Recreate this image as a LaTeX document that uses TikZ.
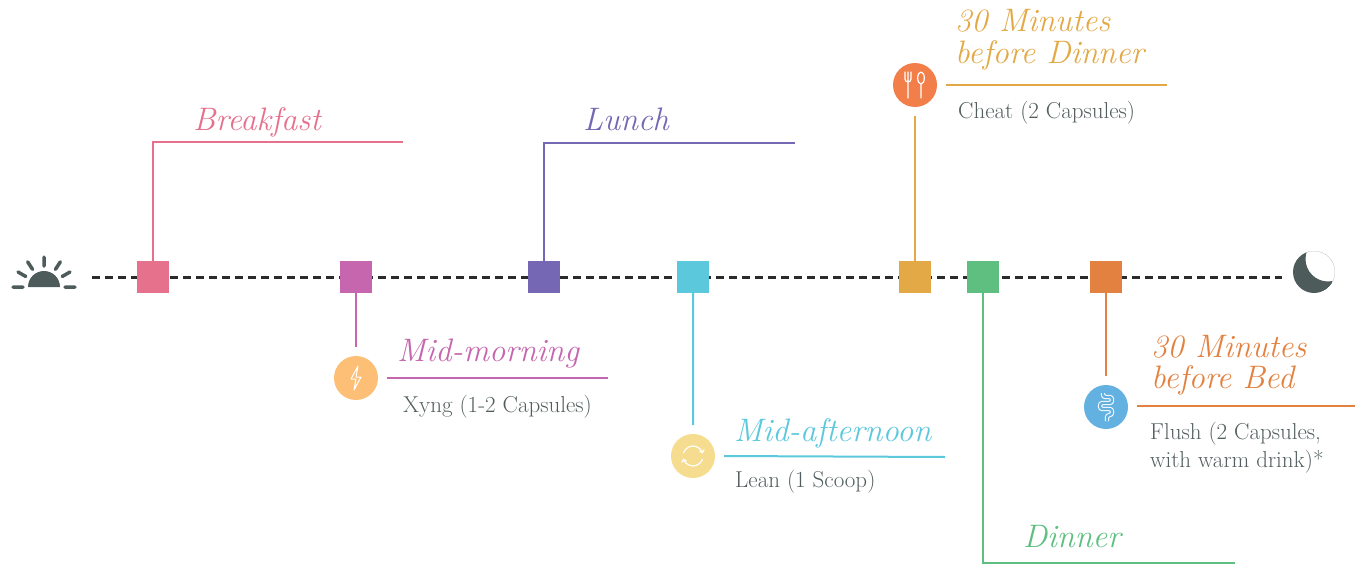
\documentclass[tikz,border=0pt]{standalone}
\usepackage{tikz}
\usetikzlibrary{arrows.meta}
\definecolor{brkc}{HTML}{E5718D}
\definecolor{mmc}{HTML}{C566AE}
\definecolor{lunc}{HTML}{7567B3}
\definecolor{mac}{HTML}{5CC8DC}
\definecolor{bdc}{HTML}{E3A946}
\definecolor{dinc}{HTML}{5EBF80}
\definecolor{bbc}{HTML}{E38240}
\definecolor{boltc}{HTML}{FDBF76}
\definecolor{loopc}{HTML}{F6DC8E}
\definecolor{forkc}{HTML}{F27F4A}
\definecolor{gutc}{HTML}{62B1E1}
\definecolor{notec}{HTML}{525E5E}
\definecolor{skyc}{HTML}{4E5B5B}
\definecolor{dotc}{HTML}{2B2B2B}
\tikzset{%
  slot/.style={shape=rectangle,inner sep=0,minimum size=32},
  icon/.style={shape=circle,inner sep=0,minimum size=44,outer sep=9},
  stem/.style={line width=2},
  timeline/.style={draw=dotc,line width=3,dash pattern=on 8 off 5},
  head/.style={anchor=base west,inner sep=0,font=\fontsize{32.5}{33}\selectfont\itshape},
  note/.style={anchor=base west,inner sep=0,text=notec,font=\fontsize{23}{27}\selectfont},
  glyph/.style={draw=white,line width=1.2,line cap=round,line join=round}
}
\begin{document}
\begin{tikzpicture}[x=1pt,y=-1pt]
    \useasboundingbox (0,0) rectangle (1355,565);
    % sun and moon
    \fill[skyc] (28,287) arc[start angle=180,end angle=360,radius=16] -- cycle;
    \draw[skyc,line width=3.5,line cap=round]
      (13,287) -- (23,287) (65,287) -- (75,287)
      \foreach \a in {-150,-123,-90,-57,-30} {(\a:21) ++(44,287) -- ++(\a:9)};
    \begin{scope}
      \clip (1314,272) circle (21);
      \fill[skyc,even odd rule] (1314,272) circle (21) (1328,259) circle (22.5);
    \end{scope}
    \path (92,277) coordinate (t0) (1282,277) coordinate (t1);
    \draw[timeline] (t0) -- (t1);
    \path
      (153,277) node[slot,fill=brkc] (brk) {}
      (356,277) node[slot,fill=mmc] (mm) {}
      (544,277) node[slot,fill=lunc] (lun) {}
      (693,277) node[slot,fill=mac] (ma) {}
      (915,277) node[slot,fill=bdc] (bd) {}
      (983,277) node[slot,fill=dinc] (din) {}
      (1106,277) node[slot,fill=bbc] (bb) {};
    \path
      (356,378) node[icon,fill=boltc] (mmi) {}
      (693,456) node[icon,fill=loopc] (mai) {}
      (915,85) node[icon,fill=forkc] (bdi) {}
      (1106,407) node[icon,fill=gutc] (bbi) {};
    \path
      (403,142) coordinate (brkend) (795,143) coordinate (lunend)
      (608,378) coordinate (mmend) (945,457) coordinate (maend)
      (1167,85) coordinate (bdend) (1235,563) coordinate (dinend)
      (1355,406) coordinate (bbend);
    \draw[stem,brkc] (brk.north) |- (brkend);
    \draw[stem,lunc] (lun.north) |- (lunend);
    \draw[stem,dinc] (din.south) |- (dinend);
    \draw[stem,mmc] (mm.south) -- (mmi.north) (mmi.east) -- (mmend);
    \draw[stem,mac] (ma.south) -- (mai.north) (mai.east) -- (maend);
    \draw[stem,bdc] (bd.north) -- (bdi.south) (bdi.east) -- (bdend);
    \draw[stem,bbc] (bb.south) -- (bbi.north) (bbi.east |- bbend) -- (bbend);
    % icons
    \begin{scope}[shift={(mmi)}]
      \draw[glyph,line width=1] (2,-12) -- (-5,1) -- (0,1) -- (-2,12) -- (5,-1) -- (0,-1) -- cycle;
    \end{scope}
    \begin{scope}[shift={(mai)}]
      \draw[glyph,-{Straight Barb[length=2.5,width=5]}] (20:10) arc[start angle=20,end angle=165,radius=10];
      \draw[glyph,-{Straight Barb[length=2.5,width=5]}] (200:10) arc[start angle=200,end angle=345,radius=10];
    \end{scope}
    \begin{scope}[shift={(bdi)}]
      \draw[glyph] (-10,-13) -- (-10,-6) arc[start angle=180,end angle=0,radius=3] -- (-4,-13)
        (-7,-13) -- (-7,13);
      \draw[glyph] (6,-7) ellipse[x radius=3.3,y radius=6] (6,-1) -- (6,13);
    \end{scope}
    \begin{scope}[shift={(bbi)}]
      \draw[white,line width=1,double=gutc,double distance=2.4,rounded corners=2.5]
        (-3,-14) -- (-3,-10) -- (6,-10) -- (6,-4) -- (-6,-4) -- (-6,2) -- (6,2) -- (6,8) -- (1,8) -- (1,14);
    \end{scope}
    % labels
    \path
      (193,130) node[head,text=brkc] (brkt) {Breakfast}
      (583,130) node[head,text=lunc] (lunt) {Lunch}
      (397,361) node[head,text=mmc] (mmt) {Mid-morning}
      (403,412) node[note] (mmn) {Xyng (1-2 Capsules)}
      (734,441) node[head,text=mac] (mat) {Mid-afternoon}
      (735,487) node[note] (man) {Lean (1 Scoop)}
      (955,31) node[head,text=bdc] (bdt) {30 Minutes}
      (955,63) node[head,text=bdc] (bdu) {before Dinner}
      (958,118) node[note] (bdn) {Cheat (2 Capsules)}
      (1023,547) node[head,text=dinc] (dint) {Dinner}
      (1151,357) node[head,text=bbc] (bbt) {30 Minutes}
      (1151,388) node[head,text=bbc] (bbu) {before Bed}
      (1150,439) node[note] (bbn) {Flush (2 Capsules,}
      (1150,467) node[note] (bbo) {with warm drink)*};
\end{tikzpicture}
\end{document}
